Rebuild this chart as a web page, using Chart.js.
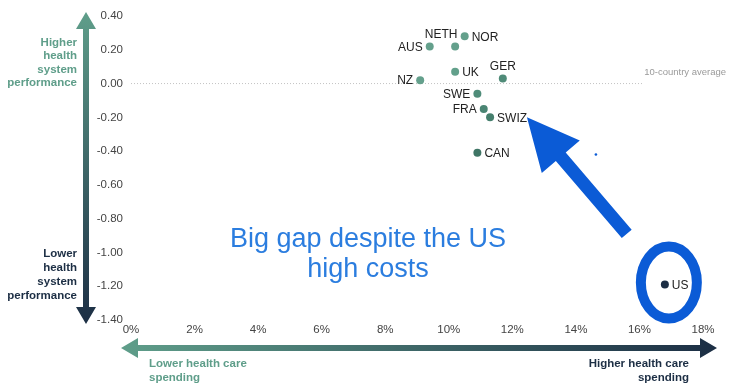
<!DOCTYPE html>
<html>
<head>
<meta charset="utf-8">
<script src="https://cdn.jsdelivr.net/npm/chart.js@4.4.1/dist/chart.umd.min.js"></script>
<style>
  html, body { margin: 0; padding: 0; background: #fff; }
  #wrap { width: 744px; height: 389px; position: relative; }
</style>
</head>
<body>
<div id="wrap"><canvas id="chart"></canvas></div>
<script>
// health care spending (% of GDP) vs. health system performance score
const countries = ['NOR', 'NETH', 'AUS', 'UK', 'GER', 'NZ', 'SWE', 'FRA', 'SWIZ', 'CAN', 'US'];
const spending = [10.5, 10.2, 9.4, 10.2, 11.7, 9.1, 10.9, 11.1, 11.3, 10.9, 16.8];
const performance = [0.28, 0.22, 0.22, 0.07, 0.03, 0.02, -0.06, -0.15, -0.20, -0.41, -1.19];
const dotColors = ['#64a08c', '#64a08c', '#64a08c', '#62a08b', '#4f8b78', '#64a08c', '#4f8c79', '#4a8573', '#457f6d', '#3f7565', '#1c2e44'];
const xTicks = [0, 2, 4, 6, 8, 10, 12, 14, 16, 18];
const yTicks = [0.4, 0.2, 0, -0.2, -0.4, -0.6, -0.8, -1.0, -1.2, -1.4];

// where each country label sits relative to its dot
const labelSide = { NOR: 'right', NETH: 'above', AUS: 'left', UK: 'right', GER: 'above', NZ: 'left', SWE: 'left', FRA: 'left', SWIZ: 'right', CAN: 'right', US: 'right' };

const GREEN = '#5f9e8a';
const NAVY = '#1c2e44';
const BLUE = '#0b5bd6';
const FONT = '"Liberation Sans", Arial, Helvetica, sans-serif';

const overlay = {
  id: 'overlay',
  beforeDatasetsDraw(chart) {
    const { ctx, chartArea: a, scales: { x, y } } = chart;
    const y0 = y.getPixelForValue(0);
    ctx.save();
    // 10-country average line
    ctx.strokeStyle = '#c4c4c4';
    ctx.lineWidth = 1;
    ctx.setLineDash([1, 2]);
    ctx.beginPath();
    ctx.moveTo(a.left, y0);
    ctx.lineTo(x.getPixelForValue(16.1), y0);
    ctx.stroke();
    ctx.setLineDash([]);
    ctx.fillStyle = '#9a9a9a';
    ctx.font = '9.5px ' + FONT;
    ctx.textAlign = 'left';
    ctx.textBaseline = 'middle';
    ctx.fillText('10-country average', x.getPixelForValue(16.15), y0 - 11);
    ctx.restore();
  },
  afterDatasetsDraw(chart) {
    const { ctx, chartArea: a, scales: { x, y } } = chart;
    const meta = chart.getDatasetMeta(0);
    ctx.save();

    // country labels
    ctx.font = '12px ' + FONT;
    ctx.fillStyle = '#222';
    ctx.textBaseline = 'middle';
    meta.data.forEach((pt, i) => {
      const name = countries[i];
      const side = labelSide[name];
      if (side === 'right') {
        ctx.textAlign = 'left';
        ctx.fillText(name, pt.x + 7, pt.y + 1);
      } else if (side === 'left') {
        ctx.textAlign = 'right';
        ctx.fillText(name, pt.x - 7, pt.y + 1);
      } else {
        ctx.textAlign = 'center';
        ctx.fillText(name, pt.x + (name === 'NETH' ? -14 : 0), pt.y - 12);
      }
    });

    // vertical gradient arrow
    const vx = 86, vt = 12, vb = 324;
    let g = ctx.createLinearGradient(0, vt, 0, vb);
    g.addColorStop(0, GREEN);
    g.addColorStop(1, NAVY);
    ctx.fillStyle = g;
    ctx.beginPath();
    ctx.moveTo(vx, vt);
    ctx.lineTo(vx + 10, vt + 17);
    ctx.lineTo(vx + 3, vt + 17);
    ctx.lineTo(vx + 3, vb - 17);
    ctx.lineTo(vx + 10, vb - 17);
    ctx.lineTo(vx, vb);
    ctx.lineTo(vx - 10, vb - 17);
    ctx.lineTo(vx - 3, vb - 17);
    ctx.lineTo(vx - 3, vt + 17);
    ctx.lineTo(vx - 10, vt + 17);
    ctx.closePath();
    ctx.fill();

    // horizontal gradient arrow
    const hy = 348, hl = 121, hr = 717;
    g = ctx.createLinearGradient(hl, 0, hr, 0);
    g.addColorStop(0, GREEN);
    g.addColorStop(1, NAVY);
    ctx.fillStyle = g;
    ctx.beginPath();
    ctx.moveTo(hl, hy);
    ctx.lineTo(hl + 17, hy - 10);
    ctx.lineTo(hl + 17, hy - 3);
    ctx.lineTo(hr - 17, hy - 3);
    ctx.lineTo(hr - 17, hy - 10);
    ctx.lineTo(hr, hy);
    ctx.lineTo(hr - 17, hy + 10);
    ctx.lineTo(hr - 17, hy + 3);
    ctx.lineTo(hl + 17, hy + 3);
    ctx.lineTo(hl + 17, hy + 10);
    ctx.closePath();
    ctx.fill();

    // axis captions
    ctx.font = 'bold 11.5px ' + FONT;
    ctx.textBaseline = 'middle';
    ctx.textAlign = 'right';
    ctx.fillStyle = GREEN;
    ['Higher', 'health', 'system', 'performance'].forEach((t, i) => ctx.fillText(t, 77, 43 + i * 13.3));
    ctx.fillStyle = NAVY;
    ['Lower', 'health', 'system', 'performance'].forEach((t, i) => ctx.fillText(t, 77, 254 + i * 14));
    ctx.textAlign = 'left';
    ctx.fillStyle = GREEN;
    ctx.fillText('Lower health care', 149, 364);
    ctx.fillText('spending', 149, 378);
    ctx.textAlign = 'right';
    ctx.fillStyle = NAVY;
    ctx.fillText('Higher health care', 689, 364);
    ctx.fillText('spending', 689, 378);

    // annotation: ellipse around US
    const us = meta.data[countries.indexOf('US')];
    ctx.strokeStyle = BLUE;
    ctx.lineWidth = 10;
    ctx.beginPath();
    ctx.ellipse(us.x + 4, us.y - 2, 28, 36, 0, 0, Math.PI * 2);
    ctx.stroke();

    // annotation: arrow pointing to the peer group
    const tx = x.getPixelForValue(12.46), ty = y.getPixelForValue(-0.2);
    const sx = x.getPixelForValue(15.6), sy = y.getPixelForValue(-0.89);
    const ang = Math.atan2(ty - sy, tx - sx);
    const headLen = 52, headHalf = 25, shaftHalf = 6.5;
    const bx = tx - Math.cos(ang) * headLen, by = ty - Math.sin(ang) * headLen;
    const nx = -Math.sin(ang), ny = Math.cos(ang);
    ctx.fillStyle = BLUE;
    ctx.beginPath();
    ctx.moveTo(sx + nx * shaftHalf, sy + ny * shaftHalf);
    ctx.lineTo(bx + nx * shaftHalf, by + ny * shaftHalf);
    ctx.lineTo(bx + nx * headHalf, by + ny * headHalf);
    ctx.lineTo(tx, ty);
    ctx.lineTo(bx - nx * headHalf, by - ny * headHalf);
    ctx.lineTo(bx - nx * shaftHalf, by - ny * shaftHalf);
    ctx.lineTo(sx - nx * shaftHalf, sy - ny * shaftHalf);
    ctx.closePath();
    ctx.fill();

    // stray blue speck
    ctx.beginPath();
    ctx.arc(x.getPixelForValue(14.63), y.getPixelForValue(-0.42), 1.3, 0, Math.PI * 2);
    ctx.fill();

    // headline
    ctx.fillStyle = '#2b7ddf';
    ctx.font = '27px ' + FONT;
    ctx.textAlign = 'center';
    ctx.textBaseline = 'middle';
    ctx.fillText('Big gap despite the US', 368, 240);
    ctx.fillText('high costs', 368, 270);

    ctx.restore();
  }
};

new Chart(document.getElementById('chart'), {
  type: 'scatter',
  data: {
    datasets: [{
      data: countries.map((c, i) => ({ x: spending[i], y: performance[i] })),
      backgroundColor: dotColors,
      borderWidth: 0,
      pointRadius: 4,
      pointHoverRadius: 4
    }]
  },
  options: {
    responsive: true,
    maintainAspectRatio: false,
    animation: false,
    layout: { padding: { top: 16, right: 41, left: 0, bottom: 0 } },
    plugins: { legend: { display: false }, tooltip: { enabled: false } },
    scales: {
      x: {
        type: 'linear',
        min: 0,
        max: 18,
        afterBuildTicks: s => { s.ticks = xTicks.map(v => ({ value: v })); },
        afterFit: s => { s.height = 69; },
        grid: { display: false, drawTicks: false },
        border: { display: false },
        ticks: {
          padding: 3,
          color: '#444',
          font: { family: FONT, size: 11.5 },
          callback: v => v + '%'
        }
      },
      y: {
        type: 'linear',
        min: -1.4,
        max: 0.4,
        afterBuildTicks: s => { s.ticks = yTicks.map(v => ({ value: v })); },
        afterFit: s => { s.width = 131; },
        grid: { display: false, drawTicks: false },
        border: { display: false },
        ticks: {
          padding: 8,
          color: '#444',
          font: { family: FONT, size: 11.5 },
          callback: v => v.toFixed(2)
        }
      }
    }
  },
  plugins: [overlay]
});
</script>
</body>
</html>
